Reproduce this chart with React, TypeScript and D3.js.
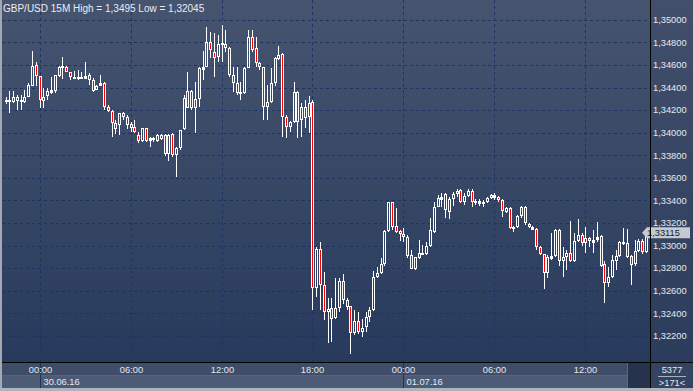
import React from 'react';
import * as d3 from 'd3';

const titleText = 'GBP/USD 15M High = 1,3495 Low = 1,32045';
const startTimeUtc = Date.UTC(2016, 5, 29, 21, 45);
const barMinutes = 15;

const opens = [
  1.34281, 1.34281, 1.34272, 1.34317, 1.34281, 1.34272, 1.34317, 1.34414, 1.34600, 1.34502,
  1.34281, 1.34325, 1.34361, 1.34370, 1.34502, 1.34582, 1.34582, 1.34538, 1.34485, 1.34485,
  1.34494, 1.34485, 1.34511, 1.34467, 1.34379, 1.34423, 1.34440, 1.34228, 1.34193, 1.34086,
  1.34069, 1.34175, 1.34140, 1.34078, 1.34051, 1.33980, 1.33927, 1.34042, 1.33936, 1.33945,
  1.33927, 1.33945, 1.33980, 1.33812, 1.33989, 1.33803, 1.33865, 1.34033, 1.34219, 1.34370,
  1.34219, 1.34299, 1.34564, 1.34582, 1.34803, 1.34715, 1.34671, 1.34786, 1.34786, 1.34750,
  1.34511, 1.34440, 1.34361, 1.34352, 1.34573, 1.34848, 1.34750, 1.34617, 1.34582, 1.34228,
  1.34272, 1.34440, 1.34653, 1.34697, 1.34140, 1.34051, 1.34095, 1.34361, 1.34113, 1.34228,
  1.34140, 1.34272, 1.32626, 1.32971, 1.32653, 1.32414, 1.32450, 1.32361, 1.32450, 1.32688,
  1.32520, 1.32467, 1.32228, 1.32334, 1.32237, 1.32281, 1.32370, 1.32432, 1.32724, 1.32759,
  1.32839, 1.33131, 1.33387, 1.33175, 1.33131, 1.33104, 1.33078, 1.32918, 1.32794, 1.32892,
  1.32927, 1.32927, 1.32998, 1.33122, 1.33343, 1.33414, 1.33317, 1.33299, 1.33414, 1.33458,
  1.33494, 1.33387, 1.33441, 1.33485, 1.33387, 1.33396, 1.33379, 1.33387, 1.33423, 1.33449,
  1.33432, 1.33405, 1.33299, 1.33334, 1.33157, 1.33166, 1.33263, 1.33343, 1.33193, 1.33166,
  1.33148, 1.32989, 1.32927, 1.32759, 1.32892, 1.32909, 1.33140, 1.32865, 1.32901, 1.32936,
  1.32865, 1.33042, 1.33095, 1.33025, 1.33069, 1.33051, 1.33060, 1.33087, 1.32839, 1.32671,
  1.32724, 1.32865, 1.32909, 1.33025, 1.33025, 1.32909, 1.32839, 1.32954, 1.33042, 1.32945,
];
const highs = [
  1.34317, 1.34370, 1.34370, 1.34334, 1.34334, 1.34379, 1.34440, 1.34724, 1.34626, 1.34502,
  1.34396, 1.34396, 1.34494, 1.34511, 1.34591, 1.34671, 1.34591, 1.34538, 1.34547, 1.34556,
  1.34538, 1.34626, 1.34529, 1.34485, 1.34423, 1.34511, 1.34449, 1.34246, 1.34202, 1.34113,
  1.34175, 1.34184, 1.34157, 1.34095, 1.34113, 1.34007, 1.34042, 1.34042, 1.33963, 1.33963,
  1.33989, 1.33989, 1.33989, 1.33989, 1.33998, 1.33874, 1.34025, 1.34334, 1.34538, 1.34379,
  1.34449, 1.34582, 1.34724, 1.34936, 1.34892, 1.34883, 1.34865, 1.34950, 1.34910, 1.34759,
  1.34582, 1.34582, 1.34449, 1.34582, 1.34910, 1.34910, 1.34848, 1.34626, 1.34582, 1.34423,
  1.34573, 1.34671, 1.34768, 1.34706, 1.34157, 1.34104, 1.34449, 1.34370, 1.34263, 1.34290,
  1.34325, 1.34290, 1.32989, 1.33033, 1.32768, 1.32538, 1.32538, 1.32715, 1.32715, 1.32750,
  1.32538, 1.32467, 1.32432, 1.32414, 1.32352, 1.32414, 1.32458, 1.32777, 1.32812, 1.32892,
  1.33140, 1.33387, 1.33387, 1.33334, 1.33140, 1.33157, 1.33095, 1.32963, 1.32901, 1.33051,
  1.33007, 1.33033, 1.33246, 1.33387, 1.33449, 1.33467, 1.33467, 1.33432, 1.33476, 1.33502,
  1.33502, 1.33467, 1.33502, 1.33502, 1.33414, 1.33414, 1.33405, 1.33432, 1.33458, 1.33467,
  1.33441, 1.33414, 1.33343, 1.33343, 1.33175, 1.33272, 1.33352, 1.33352, 1.33201, 1.33175,
  1.33157, 1.32998, 1.32927, 1.32918, 1.33113, 1.33148, 1.33148, 1.32989, 1.32963, 1.33219,
  1.33113, 1.33237, 1.33113, 1.33166, 1.33078, 1.33140, 1.33210, 1.33095, 1.32865, 1.32812,
  1.32918, 1.32963, 1.33042, 1.33157, 1.33148, 1.32918, 1.33051, 1.33060, 1.33060, 1.33157,
];
const lows = [
  1.34255, 1.34175, 1.34263, 1.34202, 1.34202, 1.34263, 1.34317, 1.34414, 1.34414, 1.34219,
  1.34219, 1.34290, 1.34343, 1.34352, 1.34494, 1.34476, 1.34538, 1.34467, 1.34476, 1.34467,
  1.34476, 1.34476, 1.34423, 1.34361, 1.34379, 1.34414, 1.34202, 1.34184, 1.33963, 1.33989,
  1.33980, 1.34113, 1.34033, 1.34007, 1.33998, 1.33910, 1.33918, 1.33918, 1.33874, 1.33918,
  1.33918, 1.33936, 1.33794, 1.33750, 1.33786, 1.33609, 1.33848, 1.34025, 1.34219, 1.34202,
  1.33998, 1.34228, 1.34467, 1.34582, 1.34662, 1.34494, 1.34626, 1.34626, 1.34715, 1.34494,
  1.34361, 1.34334, 1.34290, 1.34343, 1.34573, 1.34715, 1.34582, 1.34556, 1.34113, 1.34113,
  1.34263, 1.34414, 1.34644, 1.33963, 1.33954, 1.34007, 1.34086, 1.33954, 1.33963, 1.34042,
  1.33998, 1.32432, 1.32547, 1.32432, 1.32343, 1.32140, 1.32148, 1.32352, 1.32414, 1.32485,
  1.32432, 1.32045, 1.32211, 1.32219, 1.32193, 1.32237, 1.32326, 1.32423, 1.32715, 1.32750,
  1.32821, 1.33122, 1.33140, 1.33113, 1.33042, 1.33033, 1.32892, 1.32794, 1.32786, 1.32883,
  1.32918, 1.32918, 1.32989, 1.33113, 1.33343, 1.33343, 1.33246, 1.33237, 1.33352, 1.33432,
  1.33379, 1.33361, 1.33432, 1.33343, 1.33361, 1.33352, 1.33343, 1.33379, 1.33414, 1.33405,
  1.33387, 1.33255, 1.33290, 1.33148, 1.33122, 1.33157, 1.33246, 1.33184, 1.33157, 1.33140,
  1.32963, 1.32918, 1.32617, 1.32715, 1.32874, 1.32901, 1.32821, 1.32724, 1.32786, 1.32856,
  1.32856, 1.33033, 1.32998, 1.32936, 1.32989, 1.32936, 1.33033, 1.32812, 1.32494, 1.32635,
  1.32715, 1.32786, 1.32901, 1.33007, 1.32892, 1.32653, 1.32821, 1.32945, 1.32927, 1.32936,
];
const closes = [
  1.34290, 1.34290, 1.34317, 1.34281, 1.34290, 1.34317, 1.34423, 1.34591, 1.34502, 1.34290,
  1.34317, 1.34370, 1.34379, 1.34511, 1.34582, 1.34591, 1.34538, 1.34494, 1.34494, 1.34494,
  1.34485, 1.34502, 1.34467, 1.34370, 1.34414, 1.34440, 1.34228, 1.34193, 1.34086, 1.34033,
  1.34175, 1.34140, 1.34069, 1.34042, 1.34007, 1.33927, 1.34042, 1.33927, 1.33954, 1.33954,
  1.33980, 1.33980, 1.33812, 1.33980, 1.33803, 1.33865, 1.34025, 1.34308, 1.34370, 1.34219,
  1.34299, 1.34573, 1.34582, 1.34803, 1.34733, 1.34662, 1.34786, 1.34795, 1.34750, 1.34511,
  1.34440, 1.34352, 1.34352, 1.34573, 1.34848, 1.34733, 1.34617, 1.34582, 1.34228, 1.34272,
  1.34440, 1.34662, 1.34688, 1.34140, 1.34051, 1.34095, 1.34361, 1.34095, 1.34228, 1.34131,
  1.34263, 1.32626, 1.32971, 1.32653, 1.32414, 1.32441, 1.32352, 1.32450, 1.32688, 1.32520,
  1.32458, 1.32228, 1.32334, 1.32237, 1.32273, 1.32370, 1.32432, 1.32724, 1.32759, 1.32839,
  1.33131, 1.33387, 1.33166, 1.33122, 1.33104, 1.33078, 1.32909, 1.32794, 1.32901, 1.32936,
  1.32936, 1.32998, 1.33140, 1.33343, 1.33423, 1.33432, 1.33458, 1.33414, 1.33458, 1.33485,
  1.33387, 1.33441, 1.33485, 1.33387, 1.33396, 1.33379, 1.33387, 1.33423, 1.33449, 1.33432,
  1.33405, 1.33308, 1.33334, 1.33157, 1.33166, 1.33263, 1.33343, 1.33201, 1.33166, 1.33148,
  1.32989, 1.32927, 1.32759, 1.32901, 1.32909, 1.33140, 1.32865, 1.32901, 1.32936, 1.32865,
  1.33042, 1.33095, 1.33025, 1.33069, 1.33042, 1.33033, 1.33078, 1.32821, 1.32671, 1.32724,
  1.32874, 1.32909, 1.33033, 1.33033, 1.32901, 1.32830, 1.32954, 1.33042, 1.32945, 1.33115,
];

const priceTicks = [1.322, 1.324, 1.326, 1.328, 1.33, 1.332, 1.334, 1.336, 1.338, 1.34, 1.342, 1.344, 1.346, 1.348, 1.35];
const lastPrice = 1.33115;
const barsTotal = '5377';
const barsVisible = '>171<';

const W = 693;
const H = 391;
const plotLeft = 2;
const plotRight = 650;
const plotBottom = 362;
const FONT = '"Liberation Sans", Arial, sans-serif';

export default function App() {
  const n = closes.length;
  const times = closes.map((_, i) => new Date(startTimeUtc + i * barMinutes * 60000));
  const x = d3.scaleUtc().domain([times[0], times[n - 1]]).range([5.5, 646]);
  const y = d3.scaleLinear().domain([1.322, 1.35]).range([336, 19.8]);
  const fmtPrice = (v: number) => d3.format('.5f')(v).replace('.', ',');
  const timeTicks = x.ticks(d3.utcHour.every(6) as any);
  const fmtTime = d3.utcFormat('%H:%M');
  const fmtDate = d3.utcFormat('%d.%m.%y');

  const candles = closes.map((c, i) => {
    const o = opens[i];
    const cx = Math.round(x(times[i]));
    const yo = y(o), yc = y(c);
    const top = Math.round(Math.min(yo, yc));
    const bot = Math.round(Math.max(yo, yc));
    const yh = Math.round(y(highs[i]));
    const yl = Math.round(y(lows[i]));
    const bear = c < o;
    const els: React.ReactNode[] = [];
    if (top > yh) els.push(<line key="wh" x1={cx + 0.5} x2={cx + 0.5} y1={yh} y2={top} stroke="#fff" strokeWidth={1} />);
    if (yl > bot) els.push(<line key="wl" x1={cx + 0.5} x2={cx + 0.5} y1={bot} y2={yl} stroke="#fff" strokeWidth={1} />);
    if (bot - top <= 2) {
      els.push(<rect key="b" x={cx - 1} y={top} width={3} height={Math.max(bot - top, 1) + 1} fill="#fff" />);
    } else {
      els.push(<rect key="b" x={cx - 0.5} y={top + 0.5} width={2} height={bot - top - 1} fill={bear ? '#ff0000' : 'none'} stroke="#fff" strokeWidth={1} />);
    }
    return <g key={i}>{els}</g>;
  });

  const ly = y(lastPrice);

  return (
    <svg width={W} height={H} style={{ position: 'absolute', left: 0, top: 0, display: 'block' }} fontFamily={FONT}>
      <defs>
        <linearGradient id="plotbg" x1="0" y1="0" x2="0" y2="1">
          <stop offset="0" stopColor="#46546f" />
          <stop offset="1" stopColor="#283a5c" />
        </linearGradient>
        <linearGradient id="axisbg" x1="0" y1="0" x2="0" y2="1">
          <stop offset="0" stopColor="#414f6b" />
          <stop offset="1" stopColor="#2c3c5c" />
        </linearGradient>
        <clipPath id="plotclip"><rect x={plotLeft} y={0} width={plotRight - plotLeft} height={plotBottom} /></clipPath>
      </defs>
      <rect x={0} y={0} width={W} height={H} fill="#3a4865" />
      <rect x={plotLeft} y={0} width={plotRight - plotLeft} height={plotBottom} fill="url(#plotbg)" />
      <rect x={plotRight} y={0} width={W - plotRight} height={plotBottom} fill="url(#axisbg)" />

      {/* grid */}
      <g stroke="#1d3461" strokeWidth={1} strokeDasharray="3,3">
        {priceTicks.map((p) => (
          <line key={p} x1={plotLeft} x2={plotRight} y1={Math.round(y(p)) + 0.5} y2={Math.round(y(p)) + 0.5} />
        ))}
        {timeTicks.map((t) => (
          <line key={+t} x1={Math.round(x(t)) + 0.5} x2={Math.round(x(t)) + 0.5} y1={0} y2={plotBottom} />
        ))}
      </g>

      <g clipPath="url(#plotclip)">{candles}</g>

      {/* title */}
      <text x={3} y={12} fontSize={10} fill="#e9edf4">{titleText}</text>

      {/* price axis labels */}
      {priceTicks.map((p) => (
        <text key={p} x={653} y={y(p)} dy="0.35em" fontSize={9.3} fill="#e4e9f1">{fmtPrice(p)}</text>
      ))}

      {/* last price tag */}
      <polygon points={`642,${ly} 647,${ly - 5.5} 690,${ly - 5.5} 690,${ly + 5.5} 647,${ly + 5.5}`} fill="#c5c9d1" />
      <text x={647} y={ly} dy="0.35em" fontSize={9.3} fill="#141c2c">{fmtPrice(lastPrice)}</text>

      {/* bottom axis rows */}
      <rect x={plotLeft} y={plotBottom} width={plotRight - plotLeft} height={13} fill="#3f4d68" />
      <rect x={plotLeft} y={plotBottom + 13} width={plotRight - plotLeft} height={13} fill="#4d5b76" />
      <line x1={plotLeft} x2={plotRight} y1={plotBottom + 13.5} y2={plotBottom + 13.5} stroke="#56647e" />
      <rect x={628} y={plotBottom + 1} width={22} height={25} fill="#27334d" />
      <line x1={627.5} x2={627.5} y1={plotBottom + 1} y2={plotBottom + 26} stroke="#5a6884" />
      {timeTicks.filter((t) => t.getUTCHours() === 0).map((t) => (
        <line key={'m' + +t} x1={Math.round(x(t)) + 0.5} x2={Math.round(x(t)) + 0.5} y1={plotBottom} y2={plotBottom + 26} stroke="#1d3461" />
      ))}
      {timeTicks.map((t) => (
        <text key={'t' + +t} x={Math.round(x(t)) + 0.5} y={plotBottom + 8} dy="0.35em" textAnchor="middle" fontSize={9.3} fill="#e4e9f1">{fmtTime(t)}</text>
      ))}
      {timeTicks.filter((t) => t.getUTCHours() === 0).map((t) => (
        <text key={'d' + +t} x={Math.round(x(t)) + 3.5} y={plotBottom + 19.5} dy="0.35em" fontSize={9.3} fill="#e4e9f1">{fmtDate(t)}</text>
      ))}

      {/* right bottom panel */}
      <rect x={plotRight} y={plotBottom} width={W - plotRight} height={26} fill="#344360" />
      <text x={672} y={plotBottom + 8} dy="0.35em" textAnchor="middle" fontSize={9.3} fill="#e4e9f1">{barsTotal}</text>
      <line x1={658} x2={686} y1={plotBottom + 14.5} y2={plotBottom + 14.5} stroke="#a9b2c2" />
      <text x={672} y={plotBottom + 20.5} dy="0.35em" textAnchor="middle" fontSize={9.3} fill="#e4e9f1">{barsVisible}</text>

      {/* frame lines */}
      <line x1={plotRight + 0.5} x2={plotRight + 0.5} y1={0} y2={H} stroke="#000" />
      <line x1={0} x2={W} y1={plotBottom + 0.5} y2={plotBottom + 0.5} stroke="#000" />
      <rect x={0} y={0} width={2} height={H} fill="#a3a9b3" />
      <rect x={0} y={388} width={W} height={3} fill="#aeb3bc" />
    </svg>
  );
}
